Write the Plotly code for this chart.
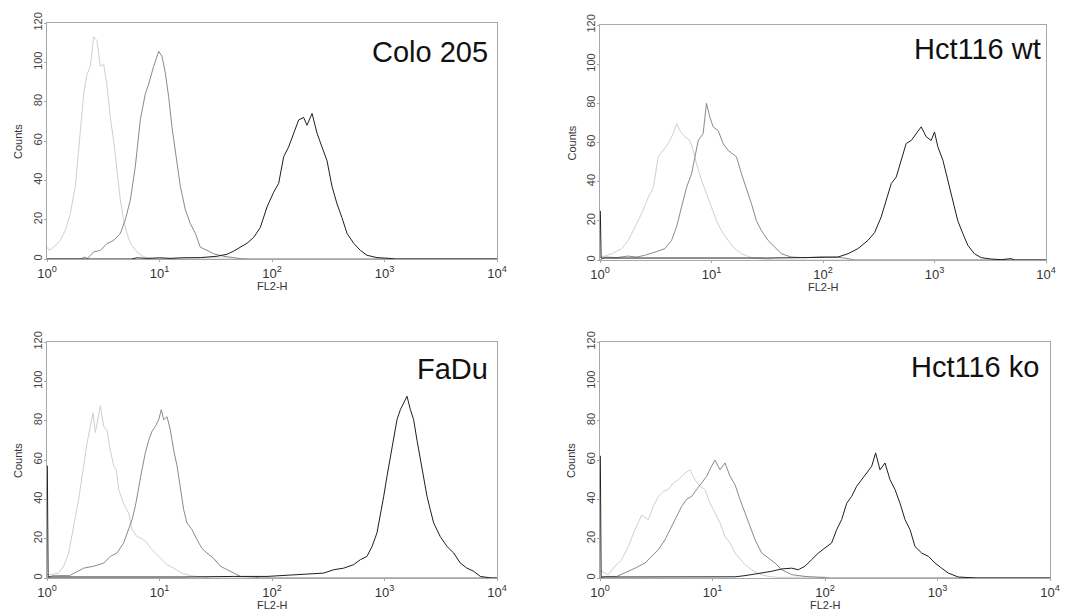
import plotly.graph_objects as go

# ---------------- data (x as log10(FL2-H), y as counts) ----------------
panel_titles = ["Colo 205", "Hct116 wt", "FaDu", "Hct116 ko"]
x_axis_label = "FL2-H"
y_axis_label = "Counts"
x_tick_vals = [1, 10, 100, 1000, 10000]
x_tick_text = ["10<sup>0</sup>", "10<sup>1</sup>", "10<sup>2</sup>", "10<sup>3</sup>", "10<sup>4</sup>"]
y_tick_vals = [0, 20, 40, 60, 80, 100, 120]

# Colo 205
colo_light_lx = [0.0, 0.02, 0.06, 0.118, 0.163, 0.207, 0.252, 0.296, 0.326, 0.356, 0.385, 0.415, 0.444, 0.474, 0.504,
                 0.533, 0.563, 0.593, 0.622, 0.652, 0.681, 0.711, 0.741, 0.8, 0.86, 0.95, 1.2, 1.5, 1.66, 1.75, 4.0]
colo_light_y = [6, 4.4, 6, 9.5, 14.6, 23, 37, 64, 84, 94, 98, 113, 111, 98, 99,
                88, 72, 60, 43.5, 30, 20, 13, 8, 3.6, 1, 0.2, 0.5, 0.4, 0.5, 0, 0]
colo_mid_lx = [0.0, 0.3, 0.33, 0.36, 0.415, 0.474, 0.533, 0.593, 0.652, 0.696, 0.741, 0.785, 0.83, 0.874, 0.904, 0.948,
               0.993, 1.022, 1.052, 1.081, 1.111, 1.141, 1.185, 1.23, 1.274, 1.319, 1.363, 1.422, 1.48, 1.57, 1.72, 1.8, 4.0]
colo_mid_y = [0, 0, 1, 0.3, 3.6, 4.4, 7.8, 9.5, 13, 20, 30, 47, 71, 84, 89, 98,
              105.6, 103, 94.5, 82.6, 67, 55, 37, 25, 18, 13, 6, 4.4, 2.7, 1.4, 0.2, 0, 0]
colo_dark_lx = [0.0, 0.75, 0.8, 0.9, 1.0, 1.1, 1.2, 1.363, 1.511, 1.6, 1.659, 1.719, 1.778, 1.837, 1.896, 1.956, 2.015,
                2.059, 2.104, 2.148, 2.193, 2.237, 2.281, 2.311, 2.356, 2.4, 2.444, 2.489, 2.533, 2.578, 2.622,
                2.667, 2.726, 2.785, 2.844, 2.933, 3.05, 3.1, 4.0]
colo_dark_y = [0, 0, 0.6, 0.3, 0.6, 0.3, 0.6, 0.7, 1.4, 2.4, 4, 6, 8, 11, 16, 26.5, 34,
               38.4, 52, 57, 64, 70.7, 72, 68, 74, 64, 57, 50, 37, 28, 21,
               13, 8, 4.4, 1.9, 0.7, 0.3, 0, 0]

# Hct116 wt
wt_light_lx = [0.0, 0.015, 0.104, 0.194, 0.254, 0.313, 0.373, 0.433, 0.478, 0.522, 0.567, 0.612, 0.657, 0.687, 0.716,
               0.761, 0.806, 0.836, 0.866, 0.91, 0.955, 1.0, 1.045, 1.09, 1.149, 1.209, 1.269, 1.358, 1.478, 1.55, 4.0]
wt_light_y = [1.5, 1.5, 3.2, 5.8, 10, 17, 23.7, 32, 37, 52.7, 56, 59.5, 64.6, 69.7, 66,
              63, 61, 56, 49, 40.7, 34, 27, 20, 15, 10, 5.8, 3.2, 1.2, 0.3, 0, 0]
wt_mid_lx = [0.0, 0.05, 0.15, 0.25, 0.33, 0.4, 0.493, 0.582, 0.642, 0.687, 0.731, 0.776, 0.821, 0.851, 0.881, 0.925,
             0.955, 0.985, 1.015, 1.06, 1.104, 1.149, 1.194, 1.224, 1.269, 1.313, 1.358, 1.403, 1.448, 1.507,
             1.567, 1.627, 1.716, 1.836, 2.0, 2.134, 2.224, 2.28, 4.0]
wt_mid_y = [0, 1.5, 1.2, 2.0, 1.5, 2.4, 4, 5.8, 10, 17, 27, 37, 44, 52.7, 61, 64.6,
            80, 73, 68, 66, 59.5, 56, 54, 52.7, 44, 37, 28.8, 20, 15, 10,
            6.6, 3.2, 1.5, 1.2, 1.6, 1.4, 0.7, 0, 0]
wt_dark_lx = [0.0, 0.003, 0.01, 0.3, 0.6, 0.9, 1.2, 1.5, 1.8, 2.0, 2.134, 2.224, 2.313, 2.403, 2.463, 2.522, 2.567,
              2.612, 2.657, 2.701, 2.746, 2.791, 2.836, 2.881, 2.925, 2.97, 3.0, 3.03, 3.075, 3.119, 3.164,
              3.209, 3.254, 3.299, 3.358, 3.418, 3.507, 3.6, 3.687, 3.72, 4.0]
wt_dark_y = [25, 25, 1, 1, 0.7, 1, 0.8, 1, 1.2, 1.2, 1.5, 3.2, 5.8, 10, 14, 22, 30.5,
             39, 42.4, 51, 59.5, 61, 64.6, 68, 63, 61, 65.4, 57.8, 51, 40.7, 30.5,
             20, 13.5, 7.5, 3.2, 1.2, 0.5, 0.2, 0.7, 0, 0]

# FaDu
fadu_light_lx = [0.0, 0.03, 0.104, 0.148, 0.193, 0.237, 0.281, 0.326, 0.356, 0.385, 0.409, 0.43, 0.45, 0.474, 0.504,
                 0.533, 0.563, 0.593, 0.616, 0.637, 0.667, 0.696, 0.726, 0.756, 0.8, 0.844, 0.889, 0.933, 0.978,
                 1.022, 1.067, 1.126, 1.2, 1.274, 1.363, 1.45, 4.0]
fadu_light_y = [1.7, 1.7, 2.5, 6, 12.7, 26, 40, 57, 68.6, 77, 84, 74, 80.5, 87.6, 77,
                75, 65, 57, 55, 45, 40, 36, 33, 24.6, 21, 20, 17.8, 14.4, 11.9,
                9.3, 6.8, 5, 2.5, 1.2, 0.5, 0, 0]
fadu_mid_lx = [0.0, 0.05, 0.2, 0.326, 0.415, 0.504, 0.563, 0.622, 0.681, 0.726, 0.756, 0.785, 0.815, 0.844, 0.874,
               0.904, 0.933, 0.963, 0.993, 1.016, 1.037, 1.067, 1.096, 1.126, 1.156, 1.185, 1.215, 1.244, 1.289,
               1.333, 1.378, 1.422, 1.481, 1.541, 1.6, 1.659, 1.719, 1.837, 1.9, 4.0]
fadu_mid_y = [0, 1.2, 1.2, 5, 6, 7.6, 11, 12.7, 17.8, 24.6, 29.7, 36.4, 46.6, 55, 63.6,
              70, 74.6, 77, 80.5, 85.6, 80.5, 82, 75.4, 65, 57, 45, 34.7, 28, 24.6,
              19.5, 15, 12.7, 10, 6, 4.2, 2.2, 0.8, 0.5, 0, 0]
fadu_dark_lx = [0.0, 0.003, 0.01, 0.4, 0.8, 1.2, 1.659, 1.956, 2.163, 2.311, 2.459, 2.548, 2.637, 2.726, 2.785, 2.844,
                2.889, 2.933, 2.963, 2.993, 3.022, 3.052, 3.081, 3.111, 3.141, 3.17, 3.2, 3.23, 3.259, 3.289,
                3.319, 3.348, 3.378, 3.407, 3.437, 3.496, 3.556, 3.615, 3.674, 3.733, 3.793, 3.852, 3.911, 3.95, 4.0]
fadu_dark_y = [57, 57, 0.5, 0.5, 0.4, 0.5, 0.8, 0.8, 1.5, 2, 2.5, 4.2, 5, 6.8, 9.3, 11,
               16, 22.9, 31.4, 41.5, 51.7, 62, 70, 80.5, 85.6, 89, 92.4, 85.6, 80.5, 70,
               60, 51.7, 41.5, 34.7, 28, 21, 16, 12.7, 7.6, 5, 3.4, 0.8, 0.3, 0, 0]

# Hct116 ko
ko_light_lx = [0.0, 0.015, 0.074, 0.133, 0.193, 0.252, 0.311, 0.37, 0.43, 0.474, 0.519, 0.563, 0.607, 0.652, 0.696,
               0.756, 0.8, 0.844, 0.889, 0.933, 0.978, 1.022, 1.067, 1.111, 1.156, 1.2, 1.244, 1.289, 1.348,
               1.407, 1.496, 1.585, 2.0, 2.05, 4.0]
ko_light_y = [3.4, 3.4, 1.7, 6, 9.3, 16, 24.6, 32, 29.7, 36.4, 41.5, 44, 45, 48.3, 50,
              53.4, 55, 50, 46.6, 45, 38, 33, 28, 21, 17.8, 12.7, 10, 6.8, 4.2,
              2.2, 0.8, 0.3, 0.5, 0, 0]
ko_mid_lx = [0.0, 0.05, 0.15, 0.222, 0.311, 0.4, 0.459, 0.519, 0.578, 0.637, 0.681, 0.726, 0.77, 0.815, 0.859,
             0.904, 0.948, 0.993, 1.022, 1.067, 1.111, 1.156, 1.2, 1.244, 1.289, 1.333, 1.378, 1.437, 1.496,
             1.556, 1.615, 1.704, 1.822, 2.0, 2.05, 4.0]
ko_mid_y = [0, 0.8, 0.8, 2.5, 5, 7.6, 11, 14.4, 19.5, 26, 31.4, 36.4, 40, 41.5, 45,
            48.3, 51.7, 57, 60, 55, 58.5, 51.7, 47.5, 40, 33, 26, 19.5, 12.7, 10,
            7.6, 4.2, 1.7, 0.8, 0.3, 0, 0]
ko_dark_lx = [0.0, 0.003, 0.01, 0.4, 0.8, 1.2, 1.289, 1.407, 1.526, 1.615, 1.704, 1.763, 1.822, 1.881, 1.941, 2.0,
              2.059, 2.104, 2.148, 2.193, 2.237, 2.281, 2.326, 2.37, 2.415, 2.45, 2.489, 2.533, 2.578, 2.622,
              2.667, 2.711, 2.756, 2.8, 2.859, 2.919, 2.978, 3.037, 3.096, 3.185, 3.304, 3.35, 4.0]
ko_dark_y = [62, 62, 0.5, 0.5, 0.4, 0.6, 1.2, 2.2, 3.4, 4.6, 5, 4.2, 6, 9.3, 12.7, 15.3,
             17.8, 24.6, 29.7, 38, 41.5, 46.6, 50, 53.4, 56.8, 63.6, 55, 58.5, 50, 45,
             38, 29.7, 24.6, 16, 12.7, 11, 7.6, 5, 2.5, 0.5, 0.3, 0, 0]

panels = [
    [(colo_light_lx, colo_light_y), (colo_mid_lx, colo_mid_y), (colo_dark_lx, colo_dark_y)],
    [(wt_light_lx, wt_light_y), (wt_mid_lx, wt_mid_y), (wt_dark_lx, wt_dark_y)],
    [(fadu_light_lx, fadu_light_y), (fadu_mid_lx, fadu_mid_y), (fadu_dark_lx, fadu_dark_y)],
    [(ko_light_lx, ko_light_y), (ko_mid_lx, ko_mid_y), (ko_dark_lx, ko_dark_y)],
]

# ---------------- layout ----------------
W, H = 1078, 614
OFF = 8  # page body margin of the html page
# target plot-area boxes in screen pixels (left, right, top, bottom)
boxes = [(47, 497, 23, 259), (600, 1046, 25, 260), (47, 497, 342, 578), (600, 1050, 342, 578)]
# panel-title placement: gap from right edge, gap from top edge to cap top
title_right_gap = [7, 3, 7, 9]
title_top_gap = [20, 15, 18, 16]
line_colors = ["#cfcfcf", "#8a8a8a", "#1e1e1e"]
FONT = "Arial, Liberation Sans, sans-serif"


def px(v):
    return (v - OFF) / W


def py(v):
    return 1 - (v - OFF) / H


fig = go.Figure()
layout = dict(width=W, height=H, margin=dict(l=0, r=0, t=0, b=0, autoexpand=False), paper_bgcolor="white",
              plot_bgcolor="white", showlegend=False, font=dict(family=FONT, color="#333"))
annotations = []
for i, (curves, box) in enumerate(zip(panels, boxes)):
    n = i + 1
    xa = "x" if n == 1 else f"x{n}"
    ya = "y" if n == 1 else f"y{n}"
    for (lx, yv), col in zip(curves, line_colors):
        fig.add_trace(go.Scatter(x=[10 ** v for v in lx], y=yv, mode="lines",
                                 line=dict(color=col, width=1), xaxis=xa, yaxis=ya,
                                 hoverinfo="skip"))
    l, r, t, b = box
    xkey = "xaxis" if n == 1 else f"xaxis{n}"
    ykey = "yaxis" if n == 1 else f"yaxis{n}"
    layout[xkey] = dict(domain=[px(l), px(r)], anchor=ya, type="log", range=[0, 4], automargin=False,
                        tickvals=x_tick_vals, ticktext=x_tick_text, showgrid=False, zeroline=False,
                        showline=True, mirror=True, linecolor="#a8a8a8", linewidth=1,
                        ticks="outside", ticklen=2, tickcolor="#a8a8a8",
                        tickfont=dict(size=13, color="#333", family=FONT))
    layout[ykey] = dict(domain=[py(b), py(t)], anchor=xa, range=[0, 120], automargin=False,
                        tickvals=y_tick_vals, tickangle=-90, showgrid=False, zeroline=False,
                        showline=True, mirror=True, linecolor="#a8a8a8", linewidth=1,
                        ticks="outside", ticklen=2, tickcolor="#a8a8a8", ticklabelstandoff=-2,
                        tickfont=dict(size=11, color="#444", family=FONT))
    annotations.append(dict(text=panel_titles[i], xref="paper", yref="paper",
                            x=px(r - title_right_gap[i]), y=py(t + title_top_gap[i] - 9),
                            xanchor="right", yanchor="top",
                            showarrow=False, font=dict(size=29, color="#111", family=FONT)))
    annotations.append(dict(text=x_axis_label, xref="paper", yref="paper",
                            x=px((l + r) / 2), y=py(b + 27), xanchor="center", yanchor="middle",
                            showarrow=False, font=dict(size=11, color="#333", family=FONT)))
    annotations.append(dict(text=y_axis_label, xref="paper", yref="paper", textangle=-90,
                            x=px(l - 29), y=py((t + b) / 2 + 1), xanchor="center", yanchor="middle",
                            showarrow=False, font=dict(size=11, color="#333", family=FONT)))
layout["annotations"] = annotations
fig.update_layout(**layout)
fig.write_html("out.html")
